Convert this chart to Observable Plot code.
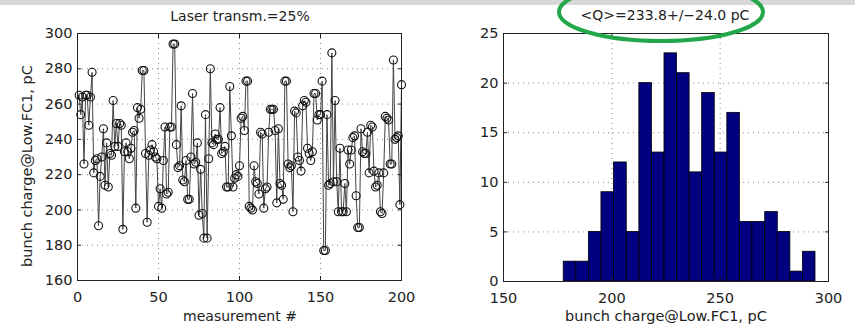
<!DOCTYPE html>
<html>
<head>
<meta charset="utf-8">
<script src="https://cdn.jsdelivr.net/npm/d3@7"></script>
<script src="https://cdn.jsdelivr.net/npm/@observablehq/plot@0.6"></script>
<style>
  html, body { margin: 0; padding: 0; background: #fff; }
  #wrap { position: relative; width: 855px; height: 327px; overflow: hidden; font-family: "DejaVu Sans", sans-serif; }
  #wrap > svg, #wrap > .chart { position: absolute; top: 0; }
  #left { left: 0; }
  #right { left: 430px; }
  #overlay { left: 0; pointer-events: none; }
</style>
</head>
<body>
<div id="wrap">
  <div id="left" class="chart"></div>
  <div id="right" class="chart"></div>
</div>
<script>
// ---- data ----
const leftTitle = "Laser transm.=25%";
const rightTitle = "<Q>=233.8+/\u221224.0 pC";
const leftXLabel = "measurement #";
const chargeLabel = "bunch charge@Low.FC1, pC";

// bunch charge (pC) for measurements 1..200
const charge = [
  265,254,264,226,265,265,248,264,278,221,
  228,229,191,219,230,246,214,238,213,232,
  231,262,236,249,236,249,248,189,233,238,
  233,229,235,244,245,201,258,252,257,279,
  279,232,193,231,234,237,233,230,229,202,
  212,201,228,247,209,210,247,247,294,294,
  237,224,225,259,217,216,228,206,206,230,
  266,226,227,238,197,223,198,184,254,184,
  229,280,238,237,243,240,240,258,232,233,
  236,213,213,270,242,213,218,220,219,225,
  252,253,245,273,273,202,201,200,225,216,
  215,209,244,243,201,212,213,244,257,257,
  257,245,204,246,215,214,206,273,273,226,
  224,225,199,256,255,230,228,222,259,262,
  261,235,232,228,233,266,266,251,254,254,
  273,177,177,254,214,215,289,216,262,216,
  199,235,199,199,215,199,234,226,234,241,
  242,208,190,190,246,233,232,232,244,221,
  248,247,222,213,214,221,199,198,221,253,
  252,251,226,226,285,240,241,242,203,271
];

// histogram (20 bins)
const binEdges = [177.8,183.6,189.4,195.2,201.0,206.9,212.7,218.5,224.3,230.1,235.9,
                  241.7,247.5,253.3,259.1,264.9,270.8,276.6,282.4,288.2,294.0];
const binCounts = [2,2,5,9,12,5,20,13,23,21,11,19,13,17,6,6,7,5,1,3];

const leftXTicks = [0,50,100,150,200];
const leftYTicks = [160,180,200,220,240,260,280,300];
const rightXTicks = [150,200,250,300];
const rightYTicks = [0,5,10,15,20,25];

// ---- build ----
const rows = charge.map((q, i) => ({m: i + 1, q}));
const bins = binCounts.map((c, i) => ({x1: binEdges[i], x2: binEdges[i + 1], count: c}));

const gridStyle = {stroke: "#8a8a8a", strokeOpacity: 1, strokeDasharray: "1,4", strokeWidth: 1};
const baseStyle = {fontFamily: "DejaVu Sans, sans-serif", fontSize: "14.5px", color: "#222", background: "transparent"};

function boxAxes(xt, yt) {
  return [
    Plot.frame({stroke: "#222", strokeWidth: 1}),
    Plot.axisX(xt, {anchor: "bottom", tickSize: -4, tickPadding: 15, label: null}),
    Plot.axisX(xt, {anchor: "top", tickSize: -4, tickFormat: () => "", label: null}),
    Plot.axisY(yt, {anchor: "left", tickSize: -4, tickPadding: 9, label: null}),
    Plot.axisY(yt, {anchor: "right", tickSize: -4, tickFormat: () => "", label: null})
  ];
}

const left = Plot.plot({
  width: 430, height: 327,
  marginLeft: 77, marginRight: 29, marginTop: 33, marginBottom: 47,
  style: baseStyle,
  x: {domain: [0, 200]},
  y: {domain: [160, 300]},
  marks: [
    Plot.gridX(leftXTicks.slice(1, -1), gridStyle),
    Plot.gridY(leftYTicks.slice(1, -1), gridStyle),
    Plot.line(rows, {x: "m", y: "q", stroke: "#444", strokeWidth: 1}),
    Plot.dot(rows, {x: "m", y: "q", r: 4, stroke: "#111", fill: "none", strokeWidth: 1.1}),
    ...boxAxes(leftXTicks, leftYTicks)
  ]
});
document.getElementById("left").append(left);

const right = Plot.plot({
  width: 425, height: 327,
  marginLeft: 73, marginRight: 27, marginTop: 33, marginBottom: 46,
  style: baseStyle,
  x: {domain: [150, 300]},
  y: {domain: [0, 25]},
  marks: [
    Plot.gridX(rightXTicks.slice(1, -1), gridStyle),
    Plot.gridY(rightYTicks.slice(1, -1), gridStyle),
    Plot.rectY(bins, {x1: "x1", x2: "x2", y: "count", fill: "#000080", stroke: "#000", strokeWidth: 0.8}),
    ...boxAxes(rightXTicks, rightYTicks)
  ]
});
document.getElementById("right").append(right);

// ---- overlay: titles, axis labels, top band, annotation ellipse ----
const ns = "http://www.w3.org/2000/svg";
const ov = document.createElementNS(ns, "svg");
ov.setAttribute("id", "overlay");
ov.setAttribute("width", 855);
ov.setAttribute("height", 327);
ov.style.position = "absolute";
ov.style.left = "0px";
ov.style.top = "0px";
function el(tag, attrs, text) {
  const e = document.createElementNS(ns, tag);
  for (const k in attrs) e.setAttribute(k, attrs[k]);
  if (text != null) e.textContent = text;
  ov.appendChild(e);
  return e;
}
const txt = {"font-family": "DejaVu Sans, sans-serif", fill: "#222", "text-anchor": "middle"};
el("rect", {x: 0, y: 0, width: 855, height: 5, fill: "#d8d8d8"});
el("text", {...txt, x: 240, y: 21, "font-size": 14}, leftTitle);
el("text", {...txt, x: 665, y: 20, "font-size": 14}, rightTitle);
el("text", {...txt, x: 240, y: 321, "font-size": 14}, leftXLabel);
el("text", {...txt, x: 666, y: 321, "font-size": 14.5}, chargeLabel);
el("text", {...txt, "font-size": 14.5, transform: "translate(32,166) rotate(-90)"}, chargeLabel);
el("ellipse", {cx: 661, cy: 12, rx: 102, ry: 29, fill: "none", stroke: "#22a84b", "stroke-width": 4});
document.getElementById("wrap").append(ov);
</script>
</body>
</html>
